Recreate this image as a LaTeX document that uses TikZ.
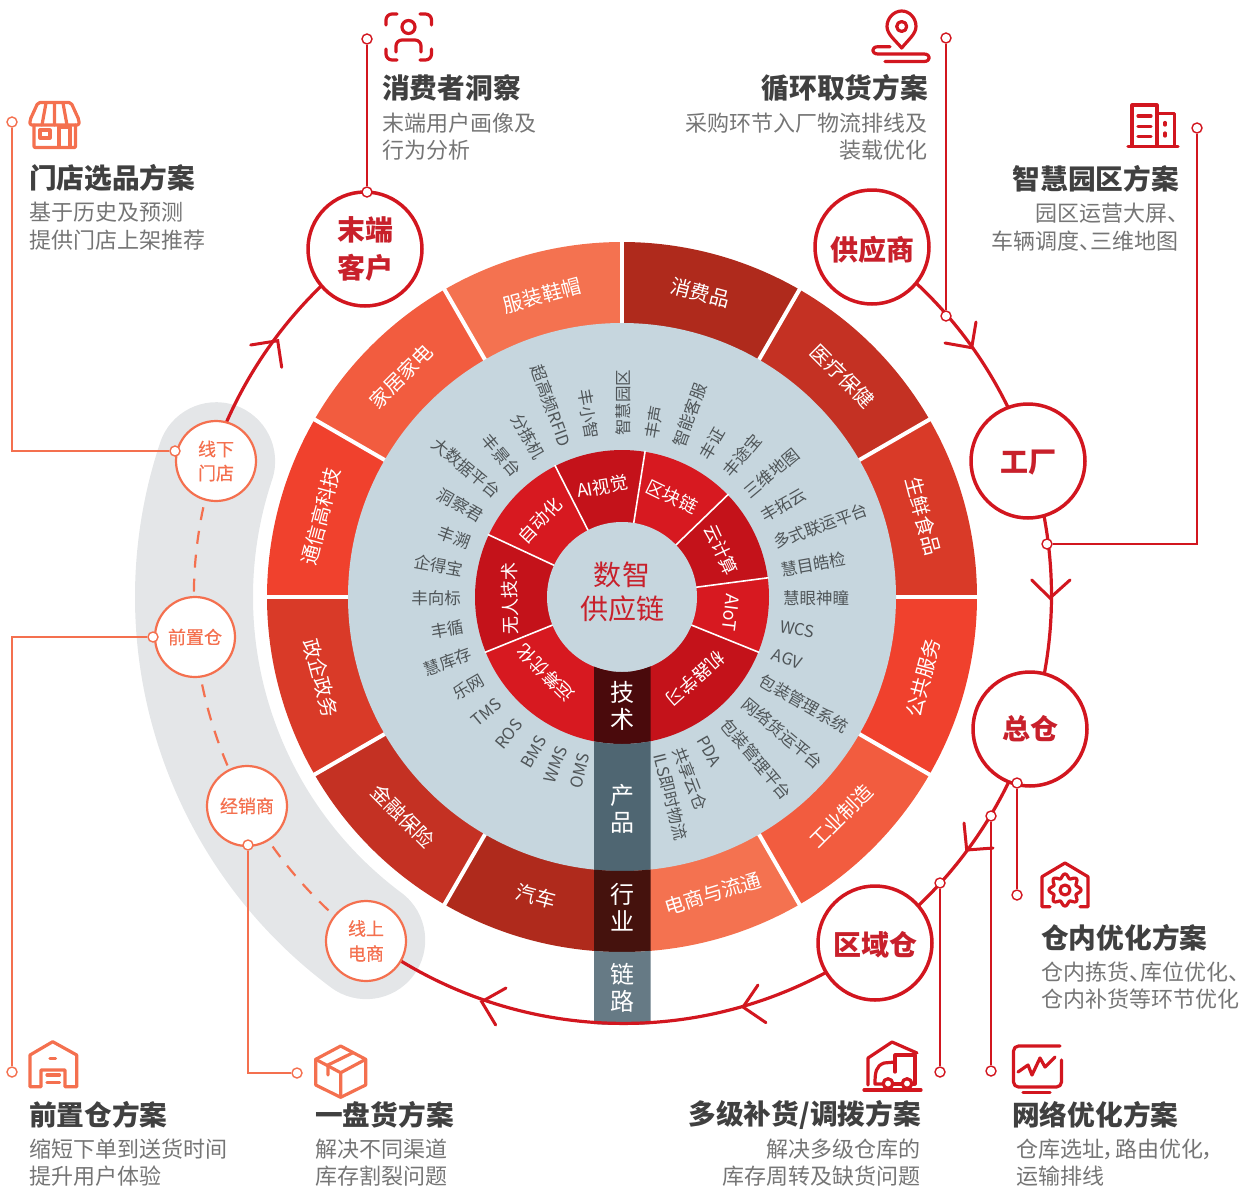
\documentclass[tikz,border=0pt]{standalone}
\usepackage{fontspec}
\setmainfont{Noto Sans CJK SC}[RawFeature=+palt]
\pgfdeclarelayer{bg}
\pgfsetlayers{bg,main}
\definecolor{ringred}{HTML}{D2161F}
\definecolor{txtred}{HTML}{C8202B}
\definecolor{orng}{HTML}{F4704F}
\definecolor{hdgray}{HTML}{404040}
\definecolor{descgray}{HTML}{757575}
\definecolor{lblgray}{HTML}{4F5558}
\definecolor{lblue}{HTML}{C6D6DE}
\definecolor{bandgray}{HTML}{E4E6E8}
\definecolor{segA}{HTML}{AF2A1C}
\definecolor{segB}{HTML}{C43123}
\definecolor{segC}{HTML}{D93A28}
\definecolor{segD}{HTML}{F0412D}
\definecolor{segE}{HTML}{F25C3F}
\definecolor{segF}{HTML}{F47250}
\definecolor{techD}{HTML}{C4121A}
\definecolor{techL}{HTML}{D71920}
\definecolor{colTech}{HTML}{4A0A0C}
\definecolor{colProd}{HTML}{4F6672}
\definecolor{colInd}{HTML}{45120D}
\definecolor{colLink}{HTML}{667A85}
\newcommand{\fsz}[1]{\fontsize{#1}{#1}\selectfont}
\newcommand{\ringsect}[5]{\fill[#1] (#2:#4) arc[start angle=#2,end angle=#3,radius=#4] -- (#3:#5) arc[start angle=#3,end angle=#2,radius=#5] -- cycle;}
\newcommand{\lowertext}[2]{\raisebox{0pt}[\dimexpr\height+#1\relax][\depth]{#2}}
\tikzset{
  bighead/.style={inner sep=0pt,text=hdgray,font=\fsz{27.7}\bfseries},
  desc/.style={inner sep=0pt,text=descgray,font=\fsz{22}},
  radlbl/.style={inner sep=0pt,text=lblgray,font=\fsz{16.5},text height=1.5em,text depth=0em},
  outerlbl/.style={inner sep=0pt,text=white,font=\fsz{20}},
  techlbl/.style={inner sep=0pt,text=white,font=\fsz{18}},
  collbl/.style={inner sep=0pt,text=white,align=center,font=\fsz{24}},
  mainnode/.style={circle,draw=ringred,line width=3.5pt,fill=white,minimum size=114pt,inner sep=0pt,align=center,text=txtred,font=\fsz{28}\bfseries},
  chnode/.style={circle,draw=orng,line width=2.2pt,fill=white,minimum size=80pt,inner sep=0pt,align=center,text=orng,font=\fsz{18}\addfontfeature{FakeBold=0.4}},
  rdot/.style={circle,draw=ringred,line width=1.4pt,fill=white,minimum size=10pt,inner sep=0pt},
  odot/.style={circle,draw=orng,line width=1.4pt,fill=white,minimum size=10pt,inner sep=0pt},
  rlead/.style={draw=ringred,line width=1.3pt},
  olead/.style={draw=orng,line width=1.3pt},
  ringline/.style={draw=ringred,line width=3.2pt},
  chev/.style={draw=ringred,line width=3pt,line cap=round},
  dashlink/.style={draw=orng,line width=2.2pt,dash pattern=on 13pt off 11pt},
  ricon/.style={draw=ringred,line width=3.2pt,line cap=round,line join=round},
  oicon/.style={draw=orng,line width=3.2pt,line cap=round,line join=round},
}
\begin{document}
\begin{tikzpicture}[x=1pt,y=-1pt]
\useasboundingbox (0,0) rectangle (1243,1189);

% ---------- wheel and links, behind the nodes
\begin{pgfonlayer}{bg}
\begin{scope}[shift={(622pt,-597pt)},x=1pt,y=1pt]
  % grey band of the channel nodes
  \draw[bandgray,line width=118pt,line cap=round] (161.5:428) arc[start angle=161.5,end angle=233.3,radius=428];
  % outer ring
  \ringsect{segA}{60}{90}{355}{270}
  \ringsect{segB}{30}{60}{355}{270}
  \ringsect{segC}{0}{30}{355}{270}
  \ringsect{segD}{-30}{0}{355}{270}
  \ringsect{segE}{-60}{-30}{355}{270}
  \ringsect{segF}{-90}{-60}{355}{270}
  \ringsect{segA}{240}{270}{355}{270}
  \ringsect{segB}{210}{240}{355}{270}
  \ringsect{segC}{180}{210}{355}{270}
  \ringsect{segD}{150}{180}{355}{270}
  \ringsect{segE}{120}{150}{355}{270}
  \ringsect{segF}{90}{120}{355}{270}
  \foreach \a in {0,30,60,90,120,150,180,210,240,300,330}
    \draw[white,line width=4pt] (\a:272) -- (\a:357);
  \fill[lblue] (0,0) circle[radius=274];
  % technology ring
  \ringsect{techD}{81}{117}{147}{70}
  \ringsect{techL}{44}{81}{147}{70}
  \ringsect{techD}{7.5}{44}{147}{70}
  \ringsect{techL}{-22}{7.5}{147}{70}
  \ringsect{techD}{-80}{-22}{147}{70}
  \ringsect{techL}{202}{260}{147}{70}
  \ringsect{techD}{155}{202}{147}{70}
  \ringsect{techL}{117}{155}{147}{70}
  \foreach \a in {81,117,155,202,44,7.5,-22}
    \draw[white,line width=1.6pt] (\a:74) -- (\a:148);
  \fill[lblue] (0,0) circle[radius=75];
  % vertical column
  \begin{scope}
    \clip (-28,-440) rectangle (28.5,0);
    \ringsect{colTech}{-130}{-50}{147}{75}
    \ringsect{colProd}{-130}{-50}{274}{147}
    \ringsect{colInd}{-130}{-50}{355}{274}
    \ringsect{colLink}{-130}{-50}{428}{355}
  \end{scope}
\end{scope}
\end{pgfonlayer}

% ---------- wheel labels
\begin{scope}[shift={(622pt,-597pt)},x=1pt,y=1pt]
  \node[outerlbl,rotate=-15] (o1) at (75.5:314) {消费品};
  \node[outerlbl,rotate=-45] (o2) at (45:312) {医疗保健};
  \node[outerlbl,rotate=-75] (o3) at (15:312) {生鲜食品};
  \node[outerlbl,rotate=75] (o4) at (-15:312) {公共服务};
  \node[outerlbl,rotate=45] (o5) at (-45:310) {工业制造};
  \node[outerlbl,rotate=17] (o6) at (-73:310) {电商与流通};
  \node[outerlbl,rotate=-15] (o7) at (254:311) {汽车};
  \node[outerlbl,rotate=-45] (o8) at (225:310) {金融保险};
  \node[outerlbl,rotate=-75] (o9) at (195:312) {政企政务};
  \node[outerlbl,rotate=75] (o10) at (165:312) {通信高科技};
  \node[outerlbl,rotate=45] (o11) at (135:312) {家居家电};
  \node[outerlbl,rotate=15] (o12) at (104.8:312) {服装鞋帽};
  \node[techlbl,rotate=10] (t1) at (100:112) {AI视觉};
  \node[techlbl,rotate=-26] (t2) at (63.5:112) {区块链};
  \node[techlbl,rotate=-65] (t3) at (25.5:110) {云计算};
  \node[techlbl,rotate=-97] (t4) at (-8:110) {AIoT};
  \node[techlbl,rotate=-138] (t5) at (-48:110) {机器学习};
  \node[techlbl,rotate=135] (t6) at (225:108) {运筹优化};
  \node[techlbl,rotate=91] (t7) at (181:112) {无人技术};
  \node[techlbl,rotate=47] (t8) at (137:112) {自动化};
  % right half: reads outward from the inner end
  \foreach \n/\a/\t in {r1/90/智慧园区,r2/80/丰声,r3/70/智能客服,r4/60/丰证,r5/50/丰途宝,r6/40/三维地图,r7/30/丰拓云,r8/20/多式联运平台,r9/10/慧目皓检,r10/0/慧眼神瞳,r11/-10/WCS,r12/-20/AGV,r13/-30/包装管理系统,r14/-40/网络货运平台,r15/-50/包装管理平台,r16/-60/PDA,r17/-69/共享云仓,r18/-76/ILS即时物流}
    \node[radlbl,anchor=west,rotate=\a] (\n) at (\a:161) {\t};
  % left half: reads inward to the inner end
  \foreach \n/\a/\t in {l1/100/丰小智,l2/110/超高频RFID,l3/120/分拣机,l4/130/丰景台,l5/140/大数据平台,l6/150/洞察君,l7/160/丰溯,l8/170/企得宝,l9/180/丰向标,l10/190/丰循,l11/200/慧库存,l12/210/乐网,l13/220/TMS,l14/230/ROS,l15/240/BMS,l16/248/WMS,l17/256/OMS}
    \node[radlbl,anchor=east,rotate=\a+180] (\n) at (\a:161) {\t};
\end{scope}

\node[inner sep=0pt,text=txtred,align=center,font=\fsz{28}] (hub) at (622,592) {数\hspace{1pt}智\\[6pt]供应链};
\node[collbl] (c1) at (622,706) {技\\[3pt]术};
\node[collbl] (c2) at (622,809) {产\\[3pt]品};
\node[collbl] (c3) at (622,907) {行\\[3pt]业};
\node[collbl] (c4) at (622,988) {链\\[3pt]路};

% ---------- main nodes on the red ring
\node[mainnode] (nend) at (365,249) {末端\\[10pt]客户};
\node[mainnode] (nsup) at (872,247) {\lowertext{6pt}{供应商}};
\node[mainnode] (nfac) at (1028,461) {\lowertext{4pt}{工厂}};
\node[mainnode] (ncen) at (1030,729) {总仓};
\node[mainnode] (nreg) at (875,943) {\lowertext{4pt}{区域仓}};
% channel nodes on the grey band
\node[chnode] (nstore) at (216,461) {线下\\[6pt]门店};
\node[chnode] (nfront) at (195,637) {前置仓};
\node[chnode] (ndeal) at (247,806) {经销商};
\node[chnode] (nonl) at (366,941) {线上\\[7pt]电商};

\begin{pgfonlayer}{bg}
  \draw[ringline] (nsup.center) arc[start angle=54.5,end angle=-126.7,radius=428pt];
  \draw[ringline] (nend.center) arc[start angle=126.4,end angle=161.5,radius=430pt];
  \draw[dashlink] (nstore.center) arc[start angle=161.5,end angle=185.3,radius=429pt];
  \draw[dashlink] (nfront.center) arc[start angle=185.3,end angle=209.1,radius=429pt];
  \draw[dashlink] (ndeal.center) arc[start angle=209.1,end angle=233.3,radius=429pt];
\end{pgfonlayer}

% chevrons
\draw[chev] (976,322) -- (971.7,347.7) -- (945,343);
\draw[chev] (1031.7,580) -- (1050,598) -- (1070,580);
\draw[chev] (964,823) -- (966.7,850) -- (993,848);
\draw[chev] (758,985) -- (743,1007) -- (766,1022.7);
\draw[chev] (506,988) -- (481.7,1001.7) -- (495.7,1025);
\draw[chev] (250.7,345) -- (277.7,340.7) -- (281.7,367.3);

% ---------- leaders
\node[rdot] (d1a) at (367,39) {};
\node[rdot] (d1b) at (367,192) {};
\draw[rlead] (d1a) -- (d1b);
\node[rdot] (d2a) at (946,38) {};
\node[rdot] (d2b) at (946,316) {};
\draw[rlead] (d2a) -- (d2b);
\node[rdot] (d3a) at (1197,128) {};
\node[rdot] (d3b) at (1047,544) {};
\draw[rlead] (d3a) |- (d3b);
\node[rdot] (d4a) at (1017,783) {};
\node[rdot] (d4b) at (1017,895) {};
\draw[rlead] (d4a) -- (d4b);
\node[rdot] (d5a) at (991,816) {};
\node[rdot] (d5b) at (991,1071) {};
\draw[rlead] (d5a) -- (d5b);
\node[rdot] (d6a) at (940,883) {};
\node[rdot] (d6b) at (940,1072) {};
\draw[rlead] (d6a) -- (d6b);
\node[odot] (d7a) at (12,122) {};
\node[odot] (d7b) at (175,451) {};
\draw[olead] (d7a) |- (d7b);
\node[odot] (d8a) at (153,637) {};
\node[odot] (d8b) at (12,1072) {};
\draw[olead] (d8a) -| (d8b);
\node[odot] (d9a) at (248,845) {};
\node[odot] (d9b) at (297,1073) {};
\draw[olead] (d9a) |- (d9b);

% ---------- solution texts
\node[bighead,anchor=west] (h1) at (29,178) {门店选品方案};
\node[desc,anchor=west] (h1a) at (29,212) {基于历史及预测};
\node[desc,anchor=west] (h1b) at (29,240) {提供门店上架推荐};
\node[bighead,anchor=west] (h2) at (382,88) {消费者洞察};
\node[desc,anchor=west] (h2a) at (382,123) {末端用户画像及};
\node[desc,anchor=west] (h2b) at (382,150) {行为分析};
\node[bighead,anchor=east] (h3) at (928,88) {循环取货方案};
\node[desc,anchor=east] (h3a) at (928,123) {采购环节入厂物流排线及};
\node[desc,anchor=east] (h3b) at (928,150) {装载优化};
\node[bighead,anchor=east] (h4) at (1179,179) {智慧园区方案};
\node[desc,anchor=east] (h4a) at (1179,213) {园区运营大屏、};
\node[desc,anchor=east] (h4b) at (1179,241) {车辆调度、三维地图};
\node[bighead,anchor=west] (h5) at (1041,938) {仓内优化方案};
\node[desc,anchor=west] (h5a) at (1041,972) {仓内拣货、库位优化、};
\node[desc,anchor=west] (h5b) at (1041,999) {仓内补货等环节优化};
\node[bighead,anchor=west] (h6) at (1012,1115) {网络优化方案};
\node[desc,anchor=west] (h6a) at (1016,1149) {仓库选址，路由优化，};
\node[desc,anchor=west] (h6b) at (1016,1176) {运输排线};
\node[bighead,anchor=east] (h7) at (921,1115) {多级补货/调拨方案};
\node[desc,anchor=east] (h7a) at (921,1149) {解决多级仓库的};
\node[desc,anchor=east] (h7b) at (921,1176) {库存周转及缺货问题};
\node[bighead,anchor=west] (h8) at (315,1115) {一盘货方案};
\node[desc,anchor=west] (h8a) at (315,1149) {解决不同渠道};
\node[desc,anchor=west] (h8b) at (315,1176) {库存割裂问题};
\node[bighead,anchor=west] (h9) at (29,1115) {前置仓方案};
\node[desc,anchor=west] (h9a) at (29,1149) {缩短下单到送货时间};
\node[desc,anchor=west] (h9b) at (29,1176) {提升用户体验};

% ---------- icons
% shop
\draw[oicon,rounded corners=2pt] (38,102.5) -- (71,102.5) -- (79,120) -- (79,125) -- (30,125) -- (30,120) -- cycle;
\draw[oicon] (46,103) -- (42,125) (54.5,103) -- (54.5,125) (63,103) -- (67,125);
\draw[oicon,rounded corners=1pt] (34,125) -- (34,147.5) -- (75.5,147.5) -- (75.5,125);
\draw[oicon] (40,130) rectangle (50,138);
\draw[oicon] (59,147) -- (59,127) -- (70,127) -- (70,147);
% person scan
\begin{scope}[rounded corners=6pt]
\draw[ricon] (397,14) -- (386,14) -- (386,25);
\draw[ricon] (420,14) -- (431.5,14) -- (431.5,25);
\draw[ricon] (386,49) -- (386,60) -- (397,60);
\draw[ricon] (431.5,49) -- (431.5,60) -- (420,60);
\draw[ricon] (396,52) -- (396,40) -- (421,40) -- (421,52);
\end{scope}
\draw[ricon] (408.5,27) circle[radius=6.5pt];
% pin
\draw[ricon] (901.7,48) .. controls (895,40) and (887,34) .. (887,26.5) .. controls (887,18) and (894,11) .. (901.7,11) .. controls (909.5,11) and (916,18) .. (916,26.5) .. controls (916,34) and (908,40) .. (901.7,48) -- cycle;
\draw[ricon] (901.7,26.5) circle[radius=5pt];
\draw[ricon] (890,46.7) -- (878,46.7) .. controls (871,46.7) and (871,54) .. (878,54) -- (924,54) .. controls (931,54) and (931,61.5) .. (924,61.5) -- (885,61.5);
% building
\draw[ricon] (1128,146.5) -- (1178,146.5);
\draw[ricon] (1132,146) -- (1132,105) -- (1157,105) -- (1157,146);
\draw[ricon] (1157,113.5) -- (1174.5,113.5) -- (1174.5,146);
\draw[ricon] (1138,116) -- (1151,116) (1138,126.5) -- (1151,126.5) (1138,136.5) -- (1151,136.5);
\draw[ricon] (1165,122.5) -- (1165,125) (1165,133) -- (1165,136);
% warehouse with gear
\draw[ricon] (1050,906.7) -- (1042,906.7) -- (1042,876.7) -- (1065,863) -- (1088,876.7) -- (1088,906.7) -- (1080,906.7);
\draw[ricon] plot[domain=0:360,samples=145,smooth] ({1065+(14+2*cos(8*\x))*cos(\x)},{890+(14+2*cos(8*\x))*sin(\x)});
\draw[ricon] (1065,890) circle[radius=5pt];
% truck in a warehouse
\draw[ricon] (868,1085) -- (868,1058) -- (892,1042) -- (917,1053);
\draw[ricon] (864,1090) -- (921,1090);
\draw[ricon] (895,1072) -- (895,1055) -- (915,1055) -- (915,1084) -- (912,1084);
\draw[ricon] (895,1062) -- (884,1063) .. controls (876,1066) and (875,1072) .. (875,1084) -- (883,1084);
\draw[ricon] (893,1084) -- (902,1084);
\draw[ricon] (888,1083.5) circle[radius=4.8pt];
\draw[ricon] (907,1083.5) circle[radius=4.8pt];
% monitor
\draw[ricon,rounded corners=5pt] (1060,1046) -- (1013.5,1046) -- (1013.5,1087) -- (1061.5,1087) -- (1061.5,1060);
\draw[ricon] (1023,1092.5) -- (1050,1092.5);
\draw[ricon] (1018,1072) -- (1028,1065) -- (1032,1075) -- (1040,1058) -- (1045,1067) -- (1055,1057);
% box
\draw[oicon] (340.7,1046) -- (365.7,1059.3) -- (365.7,1085) -- (340.7,1097.3) -- (315.7,1085) -- (315.7,1059.3) -- cycle;
\draw[oicon] (315.7,1059.3) -- (340.7,1072.7) -- (365.7,1059.3) (340.7,1072.7) -- (340.7,1097.3);
\draw[oicon] (353,1052.7) -- (328,1065) -- (328,1075);
% forward warehouse
\draw[oicon] (30,1086.7) -- (30,1055) -- (52.7,1041.7) -- (76.7,1055) -- (76.7,1086.7) -- (65,1086.7) -- (65,1070) -- (41,1070) -- (41,1086.7) -- cycle;
\draw[oicon] (50,1058.3) -- (55.5,1058.3) (47,1075) -- (59.5,1075) (47,1082.7) -- (59.5,1082.7);
\end{tikzpicture}
\end{document}
